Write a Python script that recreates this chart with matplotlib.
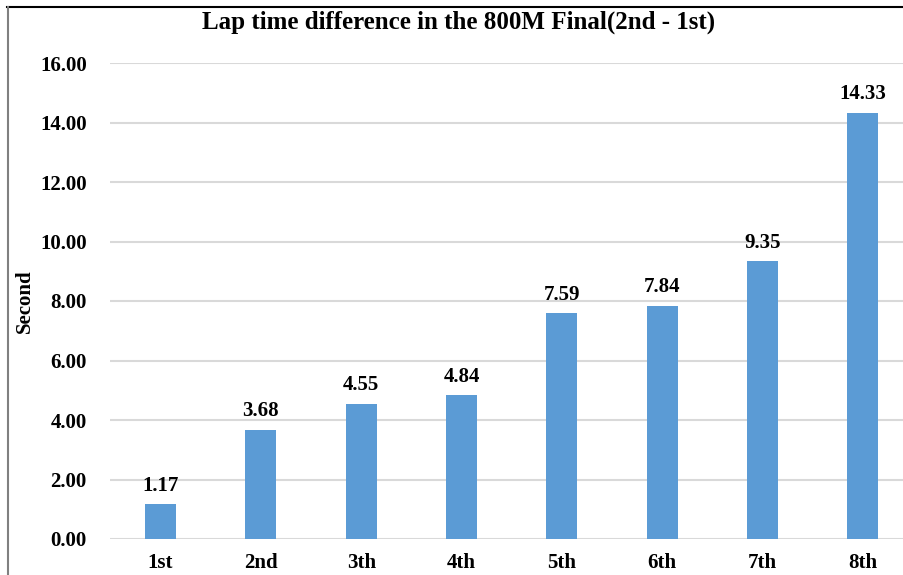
import matplotlib.pyplot as plt
from matplotlib.lines import Line2D

places = ["1st", "2nd", "3th", "4th", "5th", "6th", "7th", "8th"]
diffs = [1.17, 3.68, 4.55, 4.84, 7.59, 7.84, 9.35, 14.33]
yticks = [0, 2, 4, 6, 8, 10, 12, 14, 16]

plt.rcParams['font.family'] = ['Liberation Serif', 'DejaVu Serif']
plt.rcParams['font.weight'] = 'bold'

W, H = 904, 575
fig = plt.figure(figsize=(W / 100, H / 100), dpi=100)
ax = fig.add_axes([110.4 / W, (H - 539) / H, (W - 110.4) / W, (539 - 63) / H])

x = range(len(places))
bars = ax.bar(x, diffs, width=0.31, color="#5B9BD5", zorder=3)
for b, v in zip(bars, diffs):
    ax.annotate("%.2f" % v, (b.get_x() + b.get_width() / 2, v),
                xytext=(0, 6), textcoords="offset points",
                ha="center", va="bottom", fontsize=15, fontweight="bold")

ax.set_xlim(-0.5, 7.41)
ax.set_ylim(0, 16)
ax.set_xticks(list(x))
ax.set_xticklabels(places, fontsize=15, fontweight="bold")
ax.set_yticks(yticks)
ax.set_yticklabels(["%.2f" % t for t in yticks], fontsize=15, fontweight="bold")
ax.tick_params(length=0)
ax.tick_params(axis="y", pad=17)
ax.tick_params(axis="x", pad=10)
ax.yaxis.grid(True, color="#D9D9D9", lw=1.5, zorder=0)
for s in ax.spines.values():
    s.set_visible(False)

fig.text(459 / W, 1 - 22 / H, "Lap time difference in the 800M Final(2nd - 1st)",
         ha="center", va="center", fontsize=18, fontweight="bold")
fig.text(25 / W, 1 - 301 / H, "Second", rotation=90, ha="center", va="center",
         fontsize=15, fontweight="bold")

# frame lines along the top and left
fig.add_artist(Line2D([7 / W, 1], [1 - 6.5 / H, 1 - 6.5 / H], color="black", lw=1.5))
fig.add_artist(Line2D([7.5 / W, 7.5 / W], [0, 1 - 6.5 / H], color="#808080", lw=1.5))

fig.savefig("out.png", dpi=100)
